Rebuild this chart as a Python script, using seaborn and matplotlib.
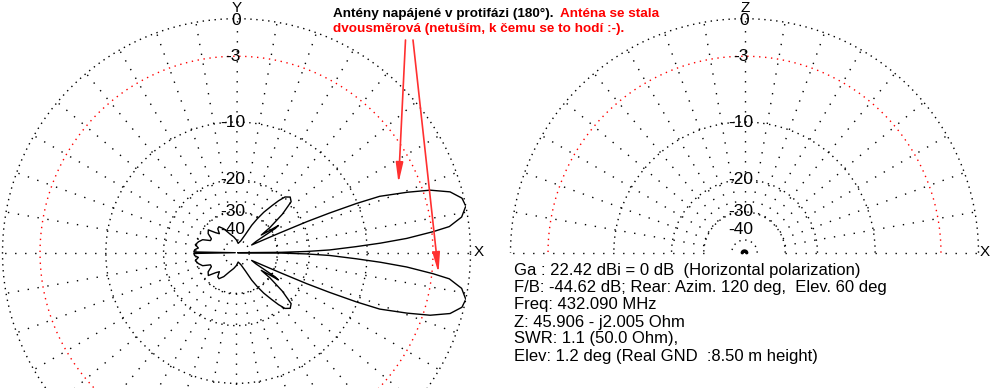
import numpy as np
import matplotlib
matplotlib.use("Agg")
import matplotlib.pyplot as plt
import seaborn as sns

# ---------------- data ----------------
# Azimuth pattern, upper half (0..180 deg, counter-clockwise from +X); pattern is symmetric about X
az_angle_deg = [0, 0.5, 1, 1.7, 2.9, 3.8, 4.8, 6.1, 7, 9, 11.5, 13.6, 15.9, 17.9, 19.5,
                21.5, 22.3, 23.1, 23.8, 24.6, 27, 30, 32, 33, 34, 35.5, 37, 40, 43, 46,
                49, 51, 53, 56, 58.5, 61, 64, 70, 80, 90, 100, 110, 118, 124, 128, 132,
                136, 141, 146, 151, 155, 159, 164, 169, 173, 176, 179, 180]
az_gain_db = [-90, -28.3, -20.7, -15.8, -11.5, -8.3, -5.4, -2.9, -1.5, -0.45, 0, -0.15, -0.9, -2.4, -4.4,
              -7.2, -10.1, -14.4, -19.1, -27.6, -45, -40, -28, -26.5, -31, -35, -29.5, -23.4, -19.6, -19,
              -19.8, -21.5, -23.7, -26.9, -30.4, -34.5, -42, -50, -55, -50, -46, -42, -37, -34.5, -35, -38,
              -36, -32, -33, -36, -36, -32, -30.5, -29.5, -31, -29.5, -29.2, -90]

# Elevation pattern (0..180 deg) - practically a null, only a dot at the centre
el_angle_deg = [0, 30, 60, 90, 120, 150, 180]
el_gain_db = [-80, -82, -84, -85, -84, -82, -80]

ring_db = [0, -3, -10, -20, -30, -50]
ring_colors = ["black", "red", "black", "black", "black", "black"]
label_db = [0, -3, -10, -20, -30, -40]
label_text = ["0", "-3", "-10", "-20", "-30", "-40"]
spoke_step_deg = 10

title_black = "Antény napájené v protifázi (180°)."
title_red_1 = "Anténa se stala"
title_red_2 = "dvousměrová (netuším, k čemu se to hodí :-)."

info_lines = [
    "Ga : 22.42 dBi = 0 dB  (Horizontal polarization)",
    "F/B: -44.62 dB; Rear: Azim. 120 deg,  Elev. 60 deg",
    "Freq: 432.090 MHz",
    "Z: 45.906 - j2.005 Ohm",
    "SWR: 1.1 (50.0 Ohm),",
    "Elev: 1.2 deg (Real GND  :8.50 m height)",
]

# ---------------- style ----------------
sns.set_style("white")
plt.rcParams["font.family"] = ["Liberation Sans", "DejaVu Sans"]

W, H = 991, 388
fig = plt.figure(figsize=(W / 100, H / 100), dpi=100)
fig.patch.set_facecolor("white")


def arrl(db):
    """ARRL log scale used by MMANA: 0.89 per 2 dB."""
    return 0.89 ** (-np.asarray(db, dtype=float) / 2.0)


def polar_axes(cx, cy, R):
    rect = [(cx - R) / W, (H - cy - R) / H, 2 * R / W, 2 * R / H]
    ax = fig.add_axes(rect, projection="polar")
    ax.set_rlim(0, 1)
    ax.grid(False)
    ax.set_xticks([])
    ax.set_yticks([])
    ax.spines["polar"].set_visible(False)
    ax.patch.set_visible(False)
    return ax


def draw_grid(ax, half):
    tmax = np.pi if half else 2 * np.pi
    tt = np.linspace(0, tmax, 721)
    for db, col in zip(ring_db, ring_colors):
        ax.plot(tt, np.full_like(tt, arrl(db)), color=col, lw=1.0,
                linestyle=(0, (1, 3.3)), dash_capstyle="butt", clip_on=False)
    r_in = arrl(-30)
    last = 180 if half else 350
    for a in range(0, last + 1, spoke_step_deg):
        th = np.deg2rad(a)
        ax.plot([th, th], [r_in, 1.0], color="black", lw=1.0,
                linestyle=(0, (1, 6.2)), dash_capstyle="butt", clip_on=False)
    for db, s in zip(label_db, label_text):
        dx = 0 if s == "0" else -3.5
        dy = -1.5 if s == "0" else 0
        ax.annotate(s, xy=(np.pi / 2, arrl(db)), xytext=(dx, dy),
                    textcoords="offset pixels", ha="center", va="center",
                    fontsize=12.5, color="black", annotation_clip=False)


# ---- left: azimuth ----
R = 234
axL = polar_axes(236.5, 252.7, R)
draw_grid(axL, half=False)
th_up = np.deg2rad(np.array(az_angle_deg, dtype=float))
db_up = np.array(az_gain_db, dtype=float)
th_full = np.concatenate([th_up, 2 * np.pi - th_up[::-1]])
db_full = np.concatenate([db_up, db_up[::-1]])
sns.lineplot(x=th_full, y=arrl(db_full), ax=axL, sort=False, estimator=None,
             color="black", lw=1.0)

# ---- right: elevation ----
axR = polar_axes(744.5, 252.7, R)
draw_grid(axR, half=True)
sns.lineplot(x=np.deg2rad(el_angle_deg), y=arrl(el_gain_db), ax=axR, sort=False,
             estimator=None, color="black", lw=2.5)
for ax in (axL, axR):
    ax.set_xlabel("")
    ax.set_ylabel("")

# ---- overlay for texts and arrows (pixel coordinates) ----
ax0 = fig.add_axes([0, 0, 1, 1])
ax0.set_xlim(0, W)
ax0.set_ylim(H, 0)
ax0.axis("off")
ax0.patch.set_visible(False)

for s, x, y in [("Y", 237, 0.5), ("Z", 745, 0.5)]:
    ax0.text(x, y, s, ha="center", va="top", fontsize=11, color="black")
for s, x, y in [("X", 478.5, 252.5), ("X", 984.5, 252.5)]:
    ax0.text(x, y, s, ha="center", va="center", fontsize=11, color="black")

fig.canvas.draw()
renderer = fig.canvas.get_renderer()


def fit(t, target):
    w = t.get_window_extent(renderer).width
    t.set_fontsize(t.get_fontsize() * target / w)


tb = ax0.text(333, 17.3, title_black, fontsize=10, fontweight="bold", color="black",
              ha="left", va="baseline")
fit(tb, 220)
fs_title = tb.get_fontsize()
fig.canvas.draw()
xb = tb.get_window_extent(renderer).x1
ax0.text(xb + 7, 17.3, title_red_1, fontsize=fs_title, fontweight="bold", color="red",
         ha="left", va="baseline")
ax0.text(333, 32.3, title_red_2, fontsize=fs_title, fontweight="bold", color="red",
         ha="left", va="baseline")

info_base = [275, 292.4, 309.4, 326.7, 343.4, 360.7]
t2 = ax0.text(513.5, info_base[1], info_lines[1], fontsize=12, color="black",
              ha="left", va="baseline")
fit(t2, 371)
fs_info = t2.get_fontsize()
for i, (s, y) in enumerate(zip(info_lines, info_base)):
    if i == 1:
        continue
    ax0.text(513.5, y, s, fontsize=fs_info, color="black", ha="left", va="baseline")

arrow_kw = dict(arrowstyle="-|>,head_length=1.2,head_width=0.22", color="#ff3030",
                lw=1.2, shrinkA=0, shrinkB=0, mutation_scale=10)
ax0.annotate("", xy=(398.5, 183), xytext=(405.5, 40), arrowprops=arrow_kw)
ax0.annotate("", xy=(438.5, 273), xytext=(413, 40), arrowprops=arrow_kw)

fig.savefig("out.png", dpi=100, facecolor="white")
